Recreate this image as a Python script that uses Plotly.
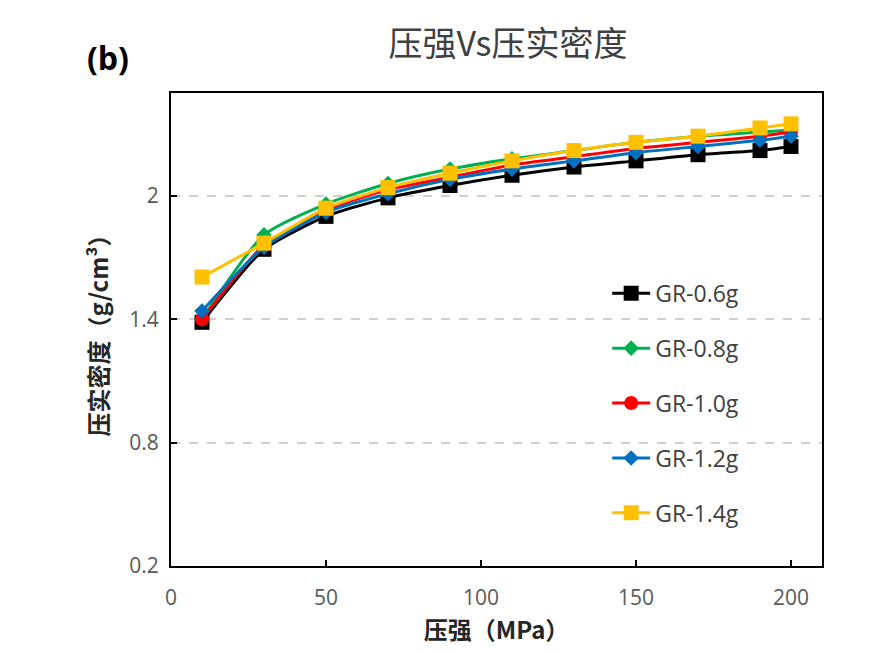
import plotly.graph_objects as go

pressure = [10, 30, 50, 70, 90, 110, 130, 150, 170, 190, 200]
gr_06 = [1.385, 1.74, 1.90, 1.99, 2.05, 2.10, 2.14, 2.17, 2.20, 2.22, 2.24]
gr_08 = [1.40, 1.81, 1.96, 2.06, 2.13, 2.18, 2.22, 2.26, 2.29, 2.31, 2.32]
gr_10 = [1.40, 1.76, 1.93, 2.03, 2.09, 2.15, 2.19, 2.23, 2.26, 2.29, 2.31]
gr_12 = [1.44, 1.75, 1.92, 2.01, 2.08, 2.13, 2.17, 2.21, 2.24, 2.27, 2.29]
gr_14 = [1.605, 1.77, 1.94, 2.04, 2.11, 2.17, 2.22, 2.26, 2.29, 2.33, 2.35]

series = [
    ("GR-0.6g", gr_06, "#000000", "square", 15),
    ("GR-0.8g", gr_08, "#00B050", "diamond", 12),
    ("GR-1.0g", gr_10, "#FF0000", "circle", 14),
    ("GR-1.2g", gr_12, "#0070C0", "diamond", 12),
    ("GR-1.4g", gr_14, "#FFC000", "square", 15),
]

font_main = "Open Sans, Noto Sans CJK SC, sans-serif"
font_cjk = "Noto Sans CJK SC, sans-serif"

fig = go.Figure()
for name, vals, color, sym, size in series:
    fig.add_trace(go.Scatter(
        x=pressure, y=vals, name=name, mode="lines+markers",
        line=dict(color=color, width=3, shape="spline", smoothing=0.6),
        marker=dict(symbol=sym, size=size, color=color),
        legendgroup=name,
    ))

fig.update_layout(
    width=868, height=646,
    margin=dict(l=163, r=54, t=85, b=88),
    paper_bgcolor="white", plot_bgcolor="white",
    title=dict(text="压强Vs压实密度", x=0.576, xanchor="center", y=0.944, yanchor="middle",
               font=dict(family=font_cjk, size=34, color="#404040")),
    showlegend=True,
    legend=dict(x=0.670, y=0.622, xanchor="left", yanchor="top",
                bgcolor="rgba(0,0,0,0)", tracegroupgap=22, itemwidth=38,
                font=dict(family=font_main, size=23, color="#404040")),
    annotations=[dict(text="<b>(b)</b>", xref="paper", yref="paper", x=-0.097, y=1.074,
                      xanchor="center", yanchor="middle", showarrow=False,
                      font=dict(family="Open Sans, sans-serif", size=32, color="black"))],
)

fig.update_xaxes(
    range=[0, 210], tickvals=[0, 50, 100, 150, 200],
    showline=True, linecolor="black", linewidth=2, mirror=True,
    ticks="inside", ticklen=6, tickwidth=1.5, tickcolor="black",
    showgrid=False, zeroline=False, ticklabelstandoff=12,
    tickfont=dict(family=font_main, size=21, color="#595959"),
    title=dict(text="<b>压强（MPa）</b>", font=dict(family=font_cjk, size=24, color="#262626"), standoff=12),
)
fig.update_yaxes(
    range=[0.2, 2.5], tickvals=[0.2, 0.8, 1.4, 2.0], ticktext=["0.2", "0.8", "1.4", "2"],
    showline=True, linecolor="black", linewidth=2, mirror=True,
    ticks="inside", ticklen=6, tickwidth=1.5, tickcolor="black",
    showgrid=True, gridcolor="#D0D0D0", griddash="dash", gridwidth=1.5,
    zeroline=False, ticklabelstandoff=6,
    tickfont=dict(family=font_main, size=21, color="#595959"),
    title=dict(text="<b>压实密度（g/cm³）</b>", font=dict(family=font_cjk, size=24, color="#262626"), standoff=14),
)

fig.write_html("out.html")
